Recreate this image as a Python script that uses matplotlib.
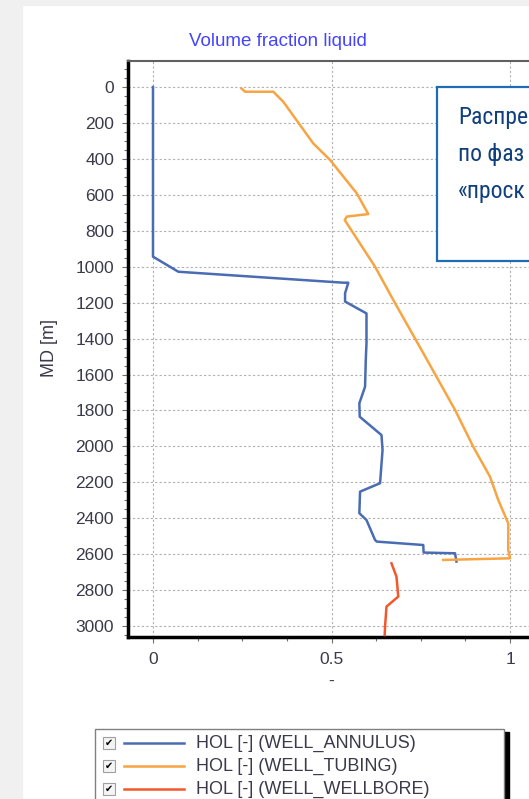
import matplotlib.pyplot as plt
from matplotlib import font_manager
from matplotlib.patches import Rectangle
from matplotlib.lines import Line2D

# Volume fraction of liquid along measured depth
annulus_md = [0, 944, 1028, 1089, 1089, 1148, 1194, 1260, 1425, 1519, 1668, 1760, 1835,
              1937, 2020, 2205, 2252, 2372, 2410, 2521, 2530, 2549, 2591, 2595, 2641]
annulus_hol = [0.0, 0.0, 0.071, 0.533, 0.547, 0.538, 0.538, 0.598, 0.598, 0.596, 0.594, 0.578, 0.579,
               0.640, 0.643, 0.636, 0.580, 0.578, 0.598, 0.622, 0.627, 0.757, 0.758, 0.846, 0.850]

tubing_md = [8, 26, 26, 82, 314, 406, 592, 707, 721, 740, 1000, 1185, 1463, 1612, 1797,
             2002, 2169, 2298, 2428, 2577, 2623, 2632]
tubing_hol = [0.248, 0.258, 0.337, 0.365, 0.449, 0.496, 0.571, 0.603, 0.543, 0.537, 0.622, 0.673,
              0.752, 0.794, 0.846, 0.897, 0.944, 0.967, 0.995, 0.995, 1.0, 0.813]

wellbore_md = [2651, 2725, 2836, 2892, 3003, 3050]
wellbore_hol = [0.668, 0.682, 0.687, 0.654, 0.650, 0.649]

series_names = ['HOL [-] (WELL_ANNULUS)', 'HOL [-] (WELL_TUBING)', 'HOL [-] (WELL_WELLBORE)']
series_colors = ['#4a6cb3', '#f7a443', '#f2582c']

y_ticks = list(range(0, 3001, 200))
x_ticks = [0, 0.5, 1]
x_tick_labels = ['0', '0.5', '1']

callout = ['Распре', 'по фаз', '«проск']

W, H = 529, 799
plt.rcParams['font.family'] = ['Liberation Sans', 'DejaVu Sans']

# pick a narrow face for the callout if one is installed
installed = {f.name for f in font_manager.fontManager.ttflist}
narrow = next((n for n in ['Roboto Condensed', 'Liberation Sans Narrow', 'DejaVu Sans Condensed',
                           'Open Sans Condensed'] if n in installed), None)
if narrow is None and any(f.name == 'DejaVu Sans' and f.stretch == 'condensed'
                          for f in font_manager.fontManager.ttflist):
    callout_font = dict(family='DejaVu Sans', stretch='condensed', fontsize=15.5)
elif narrow is not None:
    callout_font = dict(family=narrow, fontsize=17)
else:
    callout_font = dict(family='Liberation Sans', fontsize=14)

fig = plt.figure(figsize=(W / 100, H / 100), dpi=100)
fig.patch.set_facecolor('white')


def px(x, y):
    return x / W, 1 - y / H


# grey frame around the white panel
fig.add_artist(Rectangle((0, 0), 22 / W, 1, transform=fig.transFigure, color='#f0f0f0', zorder=0))
fig.add_artist(Rectangle((0, 1 - 5 / H), 1, 5 / H, transform=fig.transFigure, color='#f0f0f0', zorder=0))

ax = fig.add_axes([128 / W, (H - 637) / H, (535 - 128) / W, 576 / H])
ax.plot(annulus_hol, annulus_md, color=series_colors[0], lw=1.8, zorder=3)
ax.plot(tubing_hol, tubing_md, color=series_colors[1], lw=1.8, zorder=3)
ax.plot(wellbore_hol, wellbore_md, color=series_colors[2], lw=1.8, zorder=3)

ax.set_xlim(-0.07, 1.07)
ax.set_ylim(3061, -145)
ax.set_yticks(y_ticks)
ax.set_yticks(range(-100, 3061, 50), minor=True)
ax.set_xticks(x_ticks)
ax.set_xticklabels(x_tick_labels)
ax.set_xticks([i * 0.125 for i in range(9)], minor=True)
ax.grid(True, which='major', color='#b0b0b0', ls=(0, (2, 2)), lw=0.8)

tick_color = '#3a3a4a'
ax.tick_params(which='both', direction='out', color='#707070', labelcolor=tick_color, labelsize=12.5)
ax.tick_params(which='major', length=4, width=0.8)
ax.tick_params(which='minor', length=3, width=0.8)
ax.tick_params(axis='y', pad=6)
ax.tick_params(axis='x', pad=7)

ax.spines['left'].set_linewidth(2.5)
ax.spines['bottom'].set_linewidth(2.5)
ax.spines['top'].set_color('#606060')
ax.spines['top'].set_linewidth(1.5)
ax.spines['right'].set_visible(False)

fig.text(*px(278, 42), 'Volume fraction liquid', color='#4444ff', fontsize=13.5,
         ha='center', va='center')
fig.text(*px(49, 348), 'MD [m]', color=tick_color, fontsize=13, rotation=90,
         ha='center', va='center')
fig.text(*px(331, 681), '-', color=tick_color, fontsize=12.5, ha='center', va='center')

# callout box on the right
fig.add_artist(Rectangle(px(437, 261), 120 / W, 174 / H, transform=fig.transFigure,
                         facecolor='white', edgecolor='#1f6cb5', lw=1.6, zorder=5))
for i, line in enumerate(callout):
    fig.text(*px(458, 124 + 37 * i), line, color='#0f3f7c', ha='left', va='baseline',
             zorder=6, **callout_font)

# legend panel
fig.add_artist(Rectangle(px(504, 820), 5 / W, 88 / H, transform=fig.transFigure,
                         color='black', zorder=4))
fig.add_artist(Rectangle(px(95, 820), 409 / W, 91 / H, transform=fig.transFigure,
                         facecolor='white', edgecolor='#808080', lw=1, zorder=5))
for i, (name, col) in enumerate(zip(series_names, series_colors)):
    yc = 743 + 23 * i
    fig.add_artist(Rectangle(px(103, yc + 6), 12 / W, 12 / H, transform=fig.transFigure,
                             facecolor='#f4f4f4', edgecolor='#a0a0a0', lw=0.8, zorder=6))
    fig.text(*px(109, yc), '✔', fontsize=7, color='black', family='DejaVu Sans',
             ha='center', va='center', zorder=7)
    fig.add_artist(Line2D([124 / W, 184 / W], [1 - yc / H, 1 - yc / H], transform=fig.transFigure,
                          color=col, lw=1.8, zorder=6))
    fig.text(*px(196, yc), name, fontsize=13, color=tick_color, ha='left', va='center', zorder=7)

fig.savefig('out.png', dpi=100)
